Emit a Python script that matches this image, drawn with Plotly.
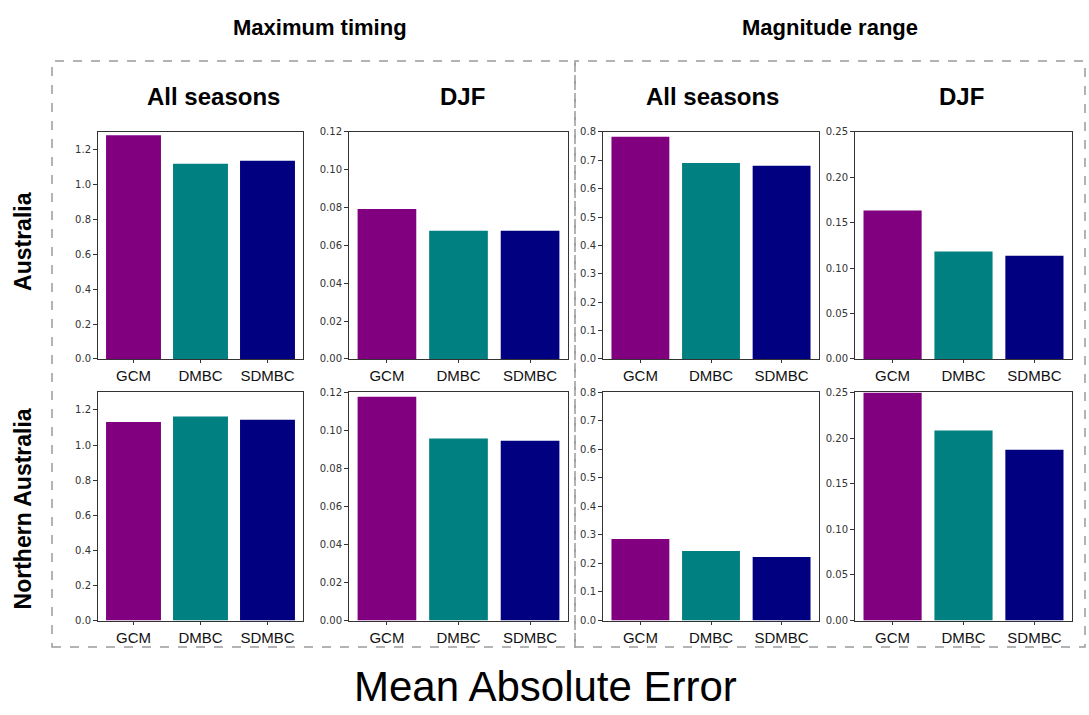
import plotly.graph_objects as go

# ---- data ----
categories = ["GCM", "DMBC", "SDMBC"]
bar_colors = ["#800080", "#008080", "#000080"]

aus_maxtiming_all = [1.280, 1.117, 1.134]
aus_maxtiming_djf = [0.0793, 0.0677, 0.0677]
aus_magrange_all = [0.783, 0.690, 0.681]
aus_magrange_djf = [0.1634, 0.1183, 0.1136]

naus_maxtiming_all = [1.131, 1.163, 1.144]
naus_maxtiming_djf = [0.1177, 0.0958, 0.0945]
naus_magrange_all = [0.286, 0.244, 0.223]
naus_magrange_djf = [0.250, 0.2082, 0.1872]

group_titles = ["Maximum timing", "Magnitude range"]
season_titles = ["All seasons", "DJF", "All seasons", "DJF"]
row_titles = ["Australia", "Northern Australia"]
main_label = "Mean Absolute Error"

y_ranges = [[0, 1.3], [0, 0.12], [0, 0.8], [0, 0.25]]
y_dticks = [0.2, 0.02, 0.1, 0.05]
y_formats = [".1f", ".2f", ".1f", ".2f"]

rows_data = [
    [aus_maxtiming_all, aus_maxtiming_djf, aus_magrange_all, aus_magrange_djf],
    [naus_maxtiming_all, naus_maxtiming_djf, naus_magrange_all, naus_magrange_djf],
]

W, H = 1089, 715
col_px = [(98, 303), (349, 568), (603, 819), (855, 1072)]
row_px = [(128, 359), (393, 625)]

fig = go.Figure()
idx = 0
for r, row in enumerate(rows_data):
    for c, vals in enumerate(row):
        idx += 1
        xa = "x" if idx == 1 else f"x{idx}"
        ya = "y" if idx == 1 else f"y{idx}"
        fig.add_trace(go.Bar(
            x=categories, y=vals, marker=dict(color=bar_colors, line=dict(width=0)),
            xaxis=xa, yaxis=ya, showlegend=False, hoverinfo="x+y",
        ))
        x0, x1 = col_px[c]
        y0, y1 = row_px[r]
        xkey = "xaxis" if idx == 1 else f"xaxis{idx}"
        ykey = "yaxis" if idx == 1 else f"yaxis{idx}"
        fig.layout[xkey] = dict(
            domain=[x0 / W, x1 / W], anchor=ya, showline=True, mirror=True,
            linecolor="#333", linewidth=1, ticks="outside", ticklen=3,
            tickcolor="#333", tickfont=dict(size=15, color="#111",
            family="Liberation Sans, Arial, sans-serif"), showgrid=False,
            fixedrange=True, range=[-0.53, 2.53],
        )
        fig.layout[ykey] = dict(
            domain=[1 - y1 / H, 1 - y0 / H], anchor=xa, showline=True, mirror=True,
            linecolor="#333", linewidth=1, ticks="outside", ticklen=4,
            tickcolor="#333", tickfont=dict(size=10, color="#333",
            family="DejaVu Sans, sans-serif"), showgrid=False, zeroline=False,
            range=y_ranges[c], dtick=y_dticks[c], tick0=0, tickformat=y_formats[c],
            fixedrange=True,
        )

fig.update_layout(bargap=0.18)

annotations = []
bold_font = "Liberation Sans, Arial, sans-serif"
for i, t in enumerate(group_titles):
    cx = [320, 830][i]
    annotations.append(dict(text=f"<b>{t}</b>", x=cx / W, y=1 - 22 / H, xref="paper",
                            yref="paper", showarrow=False, xanchor="center", yanchor="middle",
                            font=dict(size=22, color="black", family=bold_font)))
for i, t in enumerate(season_titles):
    cx = [213, 462, 712, 961][i]
    annotations.append(dict(text=f"<b>{t}</b>", x=cx / W, y=1 - 92 / H, xref="paper",
                            yref="paper", showarrow=False, xanchor="center", yanchor="middle",
                            font=dict(size=24, color="black", family=bold_font)))
for i, t in enumerate(row_titles):
    cy = [240, 512][i]
    annotations.append(dict(text=f"<b>{t}</b>", x=23 / W, y=1 - cy / H, xref="paper",
                            yref="paper", showarrow=False, textangle=-90,
                            xanchor="center", yanchor="middle",
                            font=dict(size=23, color="black", family=bold_font)))
annotations.append(dict(text=main_label, x=545 / W, y=1 - 692 / H, xref="paper",
                        yref="paper", showarrow=False, xanchor="center", yanchor="middle",
                        font=dict(size=42, color="black",
                                  family="Liberation Sans, Arial, sans-serif")))

shapes = []
for (bx0, bx1) in [(52, 575), (575, 1085)]:
    shapes.append(dict(type="rect", xref="paper", yref="paper",
                       x0=bx0 / W, x1=bx1 / W, y0=1 - 652 / H, y1=1 - 56 / H,
                       line=dict(color="#9a9a9a", width=1.5, dash="dash"),
                       fillcolor="rgba(0,0,0,0)"))

fig.update_layout(
    width=W, height=H, margin=dict(l=0, r=0, t=0, b=0),
    paper_bgcolor="white", plot_bgcolor="white",
    annotations=annotations, shapes=shapes,
)

fig.write_html("out.html")
